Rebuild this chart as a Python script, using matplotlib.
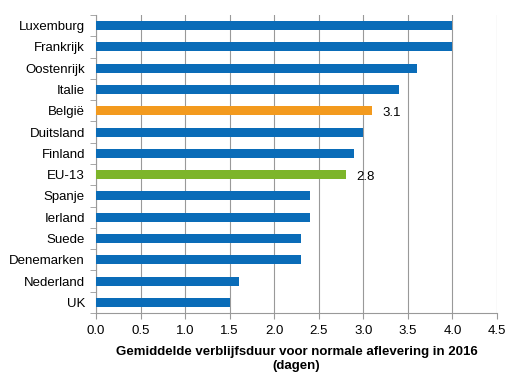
import matplotlib
matplotlib.use('Agg')
import matplotlib.pyplot as plt
import numpy as np

plt.rcParams['font.family'] = ['Liberation Sans', 'DejaVu Sans']

countries = ['Luxemburg', 'Frankrijk', 'Oostenrijk', 'Italie', 'België',
             'Duitsland', 'Finland', 'EU-13', 'Spanje', 'Ierland', 'Suede',
             'Denemarken', 'Nederland', 'UK']
values = [4.0, 4.0, 3.6, 3.4, 3.1, 3.0, 2.9, 2.8, 2.4, 2.4, 2.3, 2.3, 1.6, 1.5]
highlight = {'België': '#F39A1E', 'EU-13': '#7DB52A'}
labelled = ['België', 'EU-13']
blue = '#0A6CB8'

fig = plt.figure(figsize=(5.31, 3.88), dpi=100)
ax = fig.add_axes([96 / 531, 1 - 313 / 388, 401 / 531, 298 / 388])

y = np.arange(len(countries))[::-1]
colors = [highlight.get(c, blue) for c in countries]
ax.barh(y, values, height=0.42, color=colors, zorder=3)

for yi, c, v in zip(y, countries, values):
    if c in labelled:
        ax.text(v + 0.12, yi - 0.1, '%.1f' % v, ha='left', va='center',
                fontsize=9.5, zorder=4)

ax.set_xlim(0, 4.5)
ax.set_ylim(-0.5, len(countries) - 0.5)
ax.set_xticks(np.arange(0, 4.51, 0.5))
ax.set_xticklabels(['%.1f' % t for t in np.arange(0, 4.51, 0.5)], fontsize=9.5)
ax.set_yticks(y)
ax.set_yticklabels(countries, fontsize=9.5)
ax.set_yticks(np.arange(-0.5, len(countries), 1), minor=True)
ax.tick_params(axis='y', which='major', length=0, pad=8)
ax.tick_params(axis='y', which='minor', length=4, color='#999999')
ax.tick_params(axis='x', length=4, color='#999999', pad=5)
ax.grid(axis='x', color='#999999', linewidth=0.8, zorder=0)
for s in ['top', 'right']:
    ax.spines[s].set_visible(False)
for s in ['left', 'bottom']:
    ax.spines[s].set_color('#999999')
    ax.spines[s].set_linewidth(0.8)

ax.set_xlabel('Gemiddelde verblijfsduur voor normale aflevering in 2016\n(dagen)',
              fontsize=9.5, fontweight='bold', labelpad=6, linespacing=1.25)

plt.savefig('out.png', dpi=100)
